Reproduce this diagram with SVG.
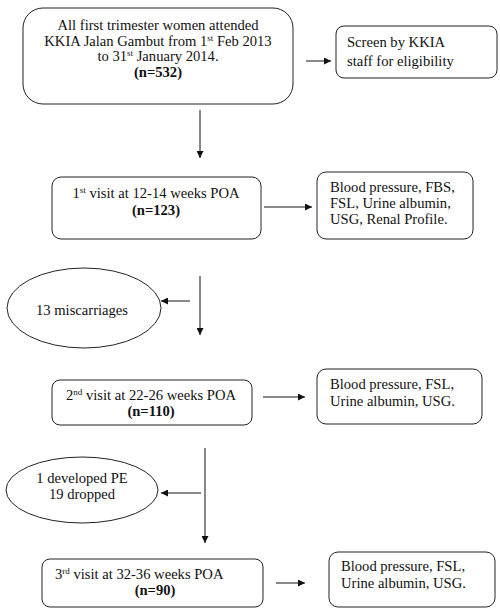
<svg xmlns="http://www.w3.org/2000/svg" width="500" height="614" viewBox="0 0 500 614">
<style>
.box{fill:#fff;stroke:#222;stroke-width:1}
.t{font-family:"Liberation Serif","Times New Roman",serif;font-size:14.6px;fill:#111}
.c{text-anchor:middle}
.b{font-weight:bold}
.sup{font-size:9px}
.ln{stroke:#111;stroke-width:1;fill:none}
</style>
<defs>
<marker id="ah" viewBox="0 0 10 10" refX="10" refY="5" markerWidth="7" markerHeight="7" markerUnits="userSpaceOnUse" orient="auto">
<path d="M0,0 L10,5 L0,10 z" fill="#111"/>
</marker>
</defs>
<rect width="500" height="614" fill="#fff"/>
<g id="n1">
<rect class="box" x="23" y="8" width="270" height="96" rx="20"/>
<text class="t c" x="158" y="30">All first trimester women attended</text>
<text class="t c" x="158" y="46">KKIA Jalan Gambut from 1<tspan class="sup" dy="-5">st</tspan><tspan dy="5"> Feb 2013</tspan></text>
<text class="t c" x="158" y="61">to 31<tspan class="sup" dy="-5">st</tspan><tspan dy="5"> January 2014.</tspan></text>
<text class="t c b" x="158" y="77">(n=532)</text>
</g>
<g id="n2">
<rect class="box" x="336" y="26" width="161" height="52" rx="8"/>
<text class="t" x="347" y="47">Screen by KKIA</text>
<text class="t" x="347" y="66">staff for eligibility</text>
</g>
<g id="n3">
<rect class="box" x="52" y="177" width="209" height="62" rx="9"/>
<text class="t c" x="156" y="198">1<tspan class="sup" dy="-5">st</tspan><tspan dy="5"> visit at 12-14 weeks POA</tspan></text>
<text class="t c b" x="156" y="215">(n=123)</text>
</g>
<g id="n4">
<rect class="box" x="317" y="172" width="156" height="67" rx="9"/>
<text class="t" x="330" y="192">Blood pressure, FBS,</text>
<text class="t" x="330" y="208">FSL, Urine albumin,</text>
<text class="t" x="330" y="224">USG, Renal Profile.</text>
</g>
<g id="n5">
<ellipse class="box" cx="84" cy="308" rx="77" ry="40"/>
<text class="t c" x="82" y="315">13 miscarriages</text>
</g>
<g id="n6">
<rect class="box" x="52" y="380" width="200" height="45" rx="8"/>
<text class="t c" x="151" y="400">2<tspan class="sup" dy="-5">nd</tspan><tspan dy="5"> visit at 22-26 weeks POA</tspan></text>
<text class="t c b" x="151" y="416">(n=110)</text>
</g>
<g id="n7">
<rect class="box" x="317" y="369" width="165" height="55" rx="9"/>
<text class="t" x="330" y="389">Blood pressure, FSL,</text>
<text class="t" x="330" y="406">Urine albumin,  USG.</text>
</g>
<g id="n8">
<ellipse class="box" cx="82" cy="490" rx="76" ry="33"/>
<text class="t c" x="82" y="483">1 developed PE</text>
<text class="t c" x="82" y="499">19 dropped</text>
</g>
<g id="n9">
<rect class="box" x="42" y="559" width="221" height="48" rx="8"/>
<text class="t" x="55" y="579">3<tspan class="sup" dy="-5">rd</tspan><tspan dy="5"> visit at 32-36 weeks POA</tspan></text>
<text class="t c b" x="155" y="595">(n=90)</text>
</g>
<g id="n10">
<rect class="box" x="329" y="552" width="166" height="55" rx="9"/>
<text class="t" x="341" y="571">Blood pressure, FSL,</text>
<text class="t" x="341" y="588">Urine albumin,  USG.</text>
</g>
<g id="connectors">
<line class="ln" x1="306" y1="61" x2="331" y2="61" marker-end="url(#ah)"/>
<line class="ln" x1="200" y1="110" x2="200" y2="158" marker-end="url(#ah)"/>
<line class="ln" x1="264" y1="207" x2="312" y2="207" marker-end="url(#ah)"/>
<line class="ln" x1="200" y1="276" x2="200" y2="335" marker-end="url(#ah)"/>
<line class="ln" x1="190" y1="301" x2="161" y2="301" marker-end="url(#ah)"/>
<line class="ln" x1="263" y1="397" x2="305" y2="397" marker-end="url(#ah)"/>
<line class="ln" x1="205" y1="448" x2="205" y2="543" marker-end="url(#ah)"/>
<line class="ln" x1="201" y1="493" x2="161" y2="493" marker-end="url(#ah)"/>
<line class="ln" x1="276" y1="583" x2="305" y2="583" marker-end="url(#ah)"/>
</g>
</svg>
